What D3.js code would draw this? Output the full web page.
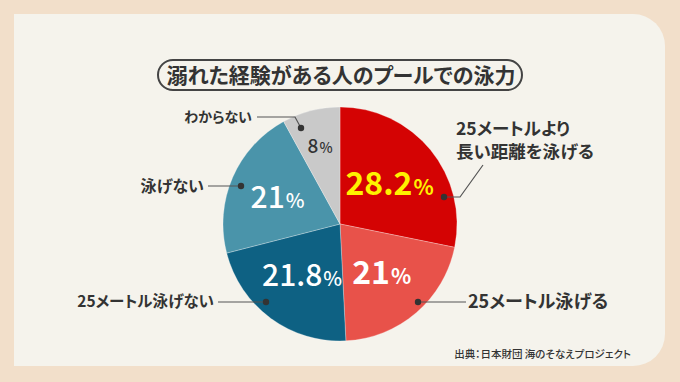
<!DOCTYPE html>
<html><head><meta charset="utf-8">
<script src="https://cdn.jsdelivr.net/npm/d3@7"></script>
<style>
html,body{margin:0;padding:0;background:#f2dfca;}
svg text{font-family:"Noto Sans CJK JP","Noto Sans",sans-serif;font-feature-settings:"palt";}
</style></head>
<body><svg id="c" width="680" height="382"></svg>
<script>
const title = "溺れた経験がある人のプールでの泳力";
const source = "出典：日本財団 海のそなえプロジェクト";
const categories = ["25メートルより\n長い距離を泳げる","25メートル泳げる","25メートル泳げない","泳げない","わからない"];
const values = [28.2, 21, 21.8, 21, 8];
const valueLabels = ["28.2","21","21.8","21","8"];
const colors = ["#d40303","#e8524a","#0e6183","#4a94aa","#c9c9c9"];

const svg = d3.select("#c");
// background panel with rounded right corners
const px0=14, py0=14, px1=665, py1=366, rr=32;
svg.append("rect").attr("width",680).attr("height",382).attr("fill","#f2dfca");
svg.append("path").attr("fill","#f5f3ec")
  .attr("d",`M${px0},${py0} H${px1-rr} A${rr},${rr} 0 0 1 ${px1},${py0+rr} V${py1-rr} A${rr},${rr} 0 0 1 ${px1-rr},${py1} H${px0} Z`);

// title
svg.append("rect").attr("x",158).attr("y",60).attr("width",364).attr("height",30).attr("rx",15)
  .attr("fill","none").attr("stroke","#444").attr("stroke-width",2);
svg.append("text").attr("x",341).attr("y",83).attr("text-anchor","middle")
  .attr("font-size",21).attr("font-weight",700).attr("fill","#333").text(title);

// pie
const cx=340, cy=224, R=117;
const g = svg.append("g").attr("transform",`translate(${cx},${cy})`);
const pie = d3.pie().sort(null).value(d=>d)(values);
const arc = d3.arc().innerRadius(0).outerRadius(R);
g.selectAll("path.s").data(pie).join("path").attr("class","s")
  .attr("d",arc).attr("fill",(d,i)=>colors[i]).attr("stroke","rgba(255,255,255,0.35)").attr("stroke-width",0.8);

// value labels
const labelR=[64,64,64,68,80];
const numSize=[32,32,30,30,19];
const pctSize=[21,21,20,20,14];
const numWeight=[700,700,500,500,500];
const txtColor=["#fff200","#ffffff","#ffffff","#ffffff","#333333"];
pie.forEach((d,i)=>{
  const c = d3.arc().innerRadius(labelR[i]).outerRadius(labelR[i]).centroid(d);
  const t = g.append("text").attr("x",c[0]).attr("y",c[1]+numSize[i]*0.36)
    .attr("text-anchor","middle").attr("fill",txtColor[i]).attr("font-weight",numWeight[i]);
  t.append("tspan").attr("font-size",numSize[i]).text(valueLabels[i]);
  t.append("tspan").attr("font-size",pctSize[i]).attr("dx",1).text("%");
});

// leader lines and category labels
const lc="#555";
const leaders = [
  {pts:[[444,197],[460,197],[483,165]]},
  {pts:[[418,302],[466,302]]},
  {pts:[[266,302],[218,302]]},
  {pts:[[241,186],[208,186]]},
  {pts:[[301,128],[295,117],[257,117]]}
];
leaders.forEach((l,i)=>{
  svg.append("path").attr("d",d3.line()(l.pts)).attr("fill","none").attr("stroke",lc).attr("stroke-width",1.2);
  svg.append("circle").attr("cx",l.pts[0][0]).attr("cy",l.pts[0][1]).attr("r",3.2).attr("fill","#333");
});
const labelPos=[{x:456,y:135,a:"start",s:17.5},{x:468,y:308,a:"start",s:18},{x:214,y:307,a:"end",s:15.5},{x:204,y:192,a:"end",s:16},{x:252,y:122,a:"end",s:14}];
categories.forEach((c,i)=>{
  const p=labelPos[i];
  c.split("\n").forEach((line,j)=>{
    svg.append("text").attr("x",p.x).attr("y",p.y+j*p.s*1.3).attr("text-anchor",p.a)
      .attr("font-size",p.s).attr("font-weight",700).attr("fill","#333").text(line);
  });
});

// source
svg.append("text").attr("x",631).attr("y",358).attr("text-anchor","end")
  .attr("font-size",10.5).attr("font-weight",500).attr("fill","#333").text(source);
</script></body></html>
